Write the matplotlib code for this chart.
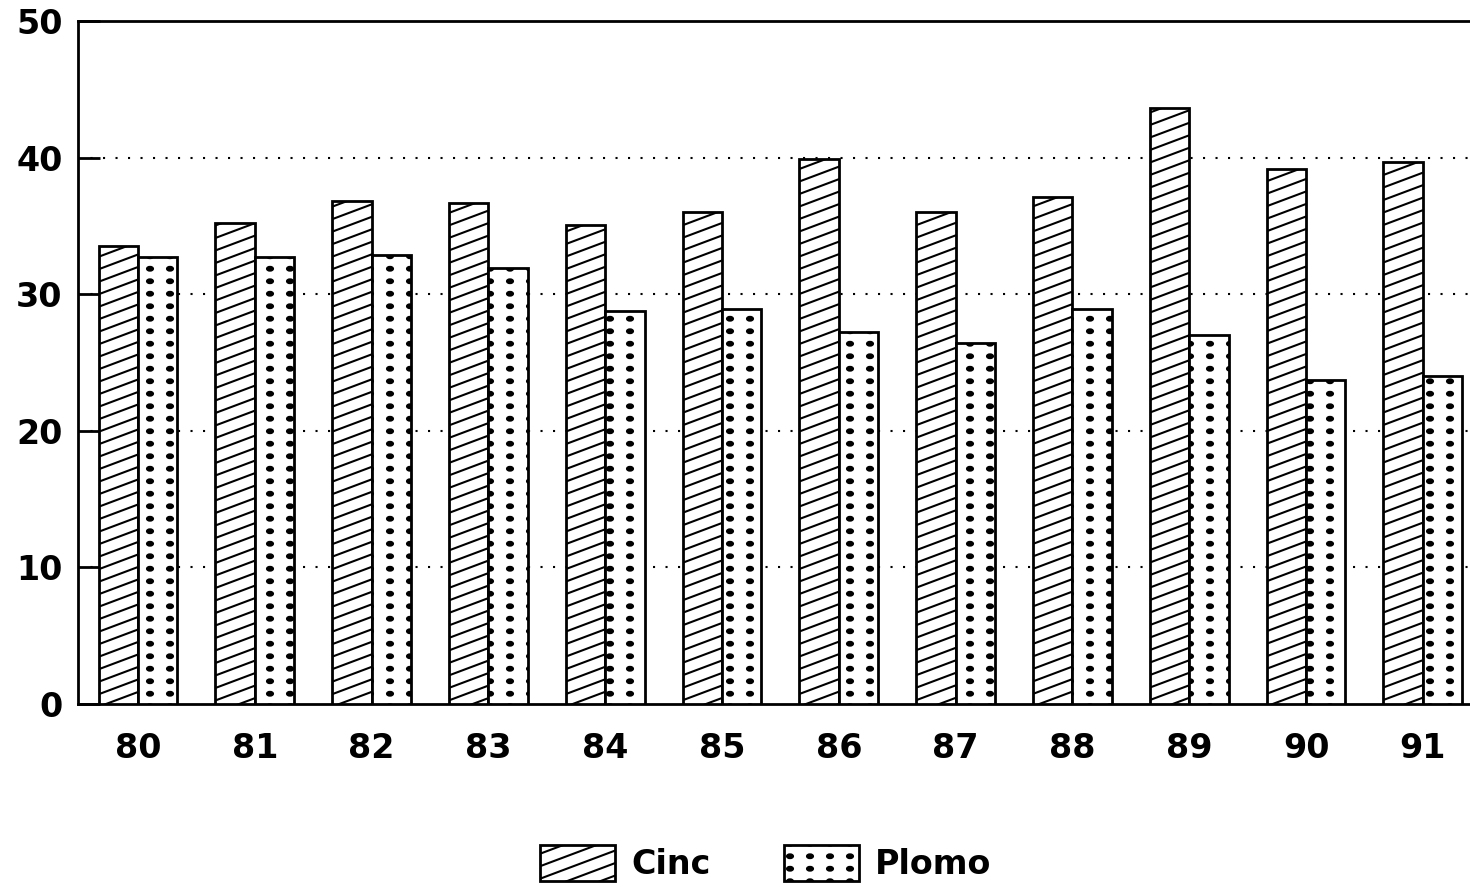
import matplotlib
matplotlib.use("Agg")
import matplotlib.pyplot as plt
import matplotlib.hatch as mhatch
from matplotlib.path import Path
import numpy as np

years = ["80", "81", "82", "83", "84", "85", "86", "87", "88", "89", "90", "91"]
cinc = [33.5, 35.2, 36.8, 36.7, 35.1, 36.0, 39.9, 36.0, 37.1, 43.6, 39.2, 39.7]
plomo = [32.7, 32.7, 32.9, 31.9, 28.8, 28.9, 27.2, 26.4, 28.9, 27.0, 23.7, 24.0]
yticks = [0, 10, 20, 30, 40, 50]


# custom hatch styles: shallow diagonal lines ('/') and a grid of oval dots ('.')
class ShallowHatch(mhatch.HatchPatternBase):
    def __init__(self, hatch, density):
        self.ks = np.arange(-3, 8) if '/' in hatch else np.array([])
        self.num_lines = len(self.ks)
        self.num_vertices = self.num_lines * 2

    def set_vertices_and_codes(self, vertices, codes):
        c = self.ks / 8.0 + 1 / 16.0
        vertices[0::2, 0] = 0.0
        vertices[0::2, 1] = c
        vertices[1::2, 0] = 1.0
        vertices[1::2, 1] = c + 3 / 8.0
        codes[0::2] = Path.MOVETO
        codes[1::2] = Path.LINETO


class DotGrid(mhatch.HatchPatternBase):
    def __init__(self, hatch, density):
        self.on = '.' in hatch
        self.nx, self.ny = 5, 8
        circ = Path.unit_circle()
        self.sv = circ.vertices
        self.sc = circ.codes
        self.num_vertices = self.nx * self.ny * len(self.sv) if self.on else 0

    def set_vertices_and_codes(self, vertices, codes):
        nv = len(self.sv)
        i = 0
        for ix in range(self.nx):
            for iy in range(self.ny):
                cx = (ix + 0.5) / self.nx
                cy = (iy + 0.5) / self.ny
                vertices[i:i + nv, 0] = cx + self.sv[:, 0] * 0.030
                vertices[i:i + nv, 1] = cy + self.sv[:, 1] * 0.019
                codes[i:i + nv] = self.sc
                i += nv


mhatch._hatch_types[:] = [ShallowHatch, DotGrid]

plt.rcParams['font.family'] = ['DejaVu Sans']
plt.rcParams['hatch.linewidth'] = 1.5

fig = plt.figure(figsize=(14.7, 8.89), dpi=100)
ax = fig.add_axes([78/1470, 1-704/889, (1490-78)/1470, (704-21)/889])

x = np.arange(len(years))
w = 0.337
b1 = ax.bar(x - w/2, cinc, w, facecolor='white', edgecolor='black', linewidth=2, hatch='/', label='Cinc', zorder=3)
b2 = ax.bar(x + w/2, plomo, w, facecolor='white', edgecolor='black', linewidth=2, hatch='.', label='Plomo', zorder=3)

ax.set_ylim(0, 50)
ax.set_xlim(-0.514, -0.514 + (1490-78)/116.8)
ax.set_yticks(yticks)
ax.set_yticklabels([str(v) for v in yticks], fontsize=24, fontweight='bold')
ax.set_xticks(x)
ax.set_xticklabels(years, fontsize=24, fontweight='bold')
ax.tick_params(axis='x', length=0, pad=20)
ax.tick_params(axis='y', direction='in', length=16, width=2, pad=11)

for gy in [10, 20, 30, 40]:
    ax.axhline(gy, color='black', linestyle=(0, (1, 5)), linewidth=1.5, zorder=1)

for s in ax.spines.values():
    s.set_linewidth(2)

leg = fig.legend(handles=[b1, b2], labels=['Cinc', 'Plomo'], loc='center', bbox_to_anchor=(0.521, 0.029),
                 ncol=2, frameon=False, prop={'size': 24, 'weight': 'bold'},
                 handlelength=2.25, handleheight=1.3, columnspacing=2.2, handletextpad=0.48)

fig.savefig("out.png", dpi=100)
